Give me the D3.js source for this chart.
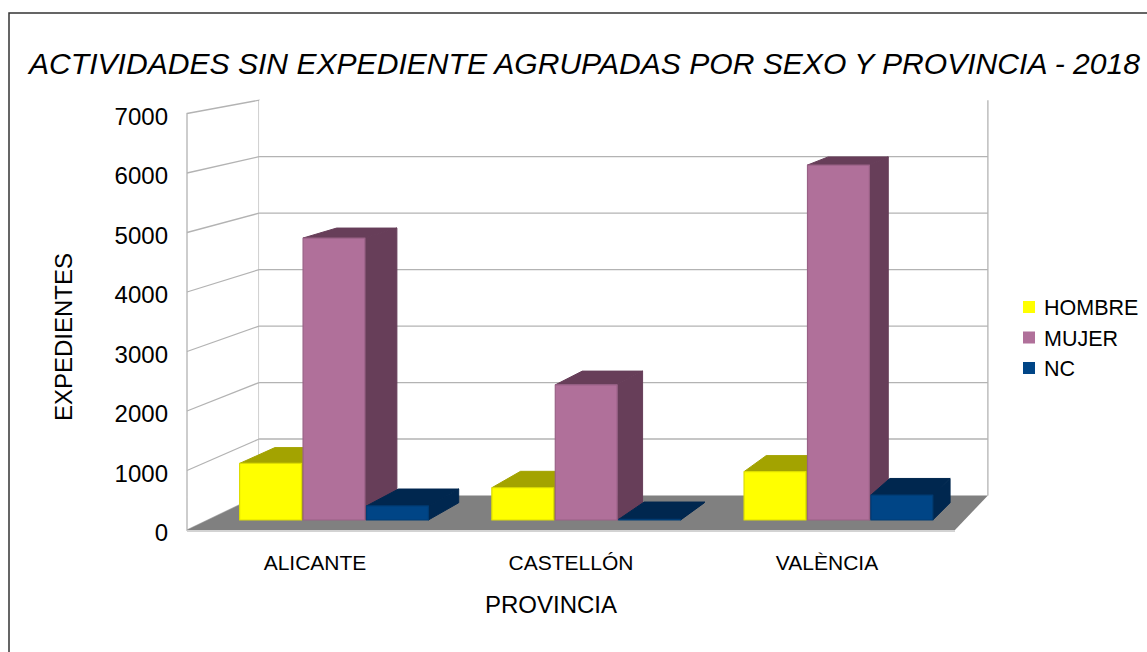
<!DOCTYPE html>
<html>
<head>
<meta charset="utf-8">
<script src="https://cdn.jsdelivr.net/npm/d3@7"></script>
<style>
  body { margin: 0; background: #fff; }
  svg { display: block; font-family: "Liberation Sans", Arial, sans-serif; }
</style>
</head>
<body>
<div id="chart"></div>
<script>
// data
const categories = ["ALICANTE", "CASTELLÓN", "VALÈNCIA"];
const seriesNames = ["HOMBRE", "MUJER", "NC"];
const hombre = [965, 550, 825];
const mujer = [4810, 2305, 6055];
const nc = [240, 12, 425];
const yTicks = [0, 1000, 2000, 3000, 4000, 5000, 6000, 7000];

const values = [hombre, mujer, nc];
const faceColors = ["#ffff00", "#b0709a", "#004586"];
const shadeColors = ["#a3a300", "#673e59", "#00274f"];

const width = 1147, height = 652;

// one point perspective: things further back shrink towards VP
const VP = [1600, -147];
const DEPTH = 0.051;
function proj(xf, yf, t) {
    let s = 1 - DEPTH * t;
    return [VP[0] + (xf - VP[0]) * s, VP[1] + (yf - VP[1]) * s];
}

let svg = d3.select("#chart").append("svg")
    .attr("width", width)
    .attr("height", height);

// outer frame (goes off the picture right and bottom)
svg.append("rect")
    .attr("x", 9).attr("y", 13)
    .attr("width", 1200).attr("height", 700)
    .attr("fill", "none")
    .attr("stroke", "#333")
    .attr("stroke-width", 1.5);

let x = d3.scaleBand().domain(categories).range([187, 955]);
let xs = d3.scaleBand().domain(seriesNames).range([0, x.bandwidth()])
    .paddingInner(0.025).paddingOuter(0.5);
let y = d3.scaleLinear().domain([0, 7000]).range([530, 113.5]);

let poly = pts => d3.line()(pts) + "Z";
const grid = "#b3b3b3";

// side wall
let x0 = x.range()[0], x1 = x.range()[1];
svg.append("path")
    .attr("d", poly([proj(x0, y(7000), 0), proj(x0, y(7000), 1), proj(x0, y(0), 1), proj(x0, y(0), 0)]))
    .attr("fill", "#fff").attr("stroke", grid).attr("stroke-width", 1.3);

// back wall
svg.append("path")
    .attr("d", poly([proj(x0, y(7000), 1), proj(x1, y(7000), 1), proj(x1, y(0), 1), proj(x0, y(0), 1)]))
    .attr("fill", "#fff").attr("stroke", "none");
svg.append("path")
    .attr("d", d3.line()([proj(x1, y(7000), 1), proj(x1, y(0), 1)]))
    .attr("stroke", grid).attr("stroke-width", 1.3);

let inner = yTicks.filter(v => v > 0 && v < 7000);
svg.selectAll(".gridside").data(inner).enter().append("path")
    .attr("d", v => d3.line()([proj(x0, y(v), 0), proj(x0, y(v), 1)]))
    .attr("stroke", grid).attr("stroke-width", 1.3);
svg.selectAll(".gridback").data(inner).enter().append("path")
    .attr("d", v => d3.line()([proj(x0, y(v), 1), proj(x1, y(v), 1)]))
    .attr("stroke", grid).attr("stroke-width", 1.3);

// floor
svg.append("path")
    .attr("d", poly([proj(x0, y(0), 0), proj(x1, y(0), 0), proj(x1, y(0), 1), proj(x0, y(0), 1)]))
    .attr("fill", "#808080");
svg.append("path")
    .attr("d", d3.line()([[x0, y(0) + 1], [x1, y(0) + 1]]))
    .attr("stroke", "#c4c4c4").attr("stroke-width", 1.3);

// bars, left to right so the nearer ones cover the side faces
const t1 = 0.29, t2 = 0.79;
let bars = svg.append("g");
categories.forEach((c, i) => {
    seriesNames.forEach((s, j) => {
        let v = values[j][i];
        let a = x(c) + xs(s), b = a + xs.bandwidth();
        let yt = y(v), yb = y(0);
        let side = [proj(b, yt, t1), proj(b, yt, t2), proj(b, yb, t2), proj(b, yb, t1)];
        let top = [proj(a, yt, t1), proj(b, yt, t1), proj(b, yt, t2), proj(a, yt, t2)];
        let front = [proj(a, yt, t1), proj(b, yt, t1), proj(b, yb, t1), proj(a, yb, t1)];
        bars.append("path").attr("d", poly(side))
            .attr("fill", shadeColors[j]).attr("stroke", shadeColors[j])
            .attr("stroke-width", 1).attr("stroke-linejoin", "round");
        bars.append("path").attr("d", poly(top))
            .attr("fill", shadeColors[j]).attr("stroke", shadeColors[j])
            .attr("stroke-width", 1).attr("stroke-linejoin", "round");
        bars.append("path").attr("d", poly(front))
            .attr("fill", faceColors[j])
            .attr("stroke", d3.color(faceColors[j]).darker(0.4))
            .attr("stroke-width", 1.2).attr("stroke-linejoin", "round");
    });
});

// y tick labels
svg.selectAll(".ytick").data(yTicks).enter().append("text")
    .attr("x", 168)
    .attr("y", v => y(v) + 2.5)
    .attr("text-anchor", "end")
    .attr("dominant-baseline", "central")
    .attr("font-size", 24)
    .attr("fill", "#000")
    .text(v => v);

// category labels
svg.selectAll(".xlab").data(categories).enter().append("text")
    .attr("x", c => x(c) + x.bandwidth() / 2)
    .attr("y", 562)
    .attr("text-anchor", "middle")
    .attr("dominant-baseline", "central")
    .attr("font-size", 21)
    .text(c => c);

// axis titles
svg.append("text")
    .attr("transform", "translate(63,337) rotate(-90)")
    .attr("text-anchor", "middle")
    .attr("dominant-baseline", "central")
    .attr("font-size", 24)
    .text("EXPEDIENTES");

svg.append("text")
    .attr("x", 551).attr("y", 604)
    .attr("text-anchor", "middle")
    .attr("dominant-baseline", "central")
    .attr("font-size", 24)
    .text("PROVINCIA");

// title
svg.append("text")
    .attr("x", 29).attr("y", 74)
    .attr("font-size", 29)
    .attr("font-style", "italic")
    .attr("textLength", 1111)
    .attr("lengthAdjust", "spacingAndGlyphs")
    .text("ACTIVIDADES SIN EXPEDIENTE AGRUPADAS POR SEXO Y PROVINCIA - 2018");

// legend
let legend = svg.selectAll(".leg").data(seriesNames).enter().append("g")
    .attr("transform", (d, i) => "translate(1023," + (307 + i * 30.5) + ")");
legend.append("rect")
    .attr("x", 0).attr("y", -6)
    .attr("width", 12).attr("height", 12)
    .attr("fill", (d, i) => faceColors[i]);
legend.append("text")
    .attr("x", 21).attr("y", 1)
    .attr("dominant-baseline", "central")
    .attr("font-size", 21.5)
    .text(d => d);
</script>
</body>
</html>
